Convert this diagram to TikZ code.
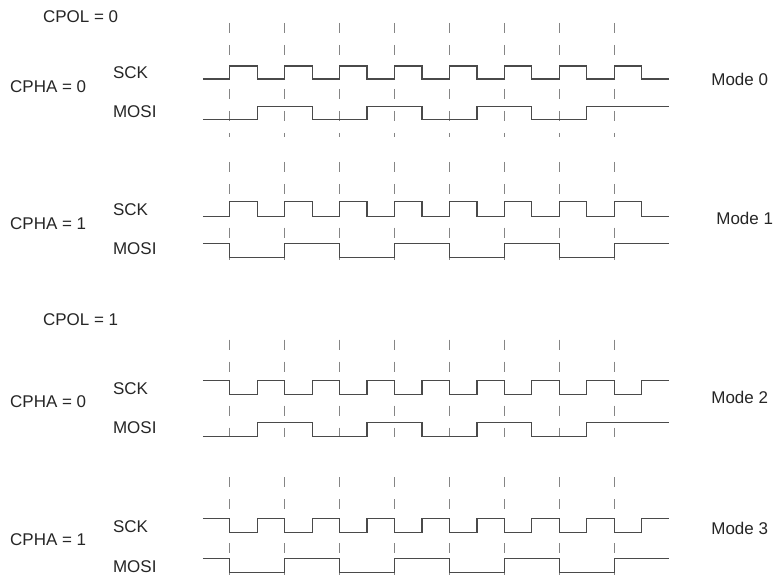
\documentclass[tikz,border=0pt]{standalone}
\usepackage{fontspec}
\setmainfont{Liberation Sans}
\definecolor{sigcol}{HTML}{4A4A4A}
\definecolor{tickcol}{HTML}{858585}
\tikzset{
  sig/.style={draw=sigcol, line width=1.2bp},
  tick/.style={draw=tickcol, line width=1.1bp, dash pattern=on 10bp off 12bp},
  lbl/.style={anchor=west, inner sep=0pt, text=black!85,
    font=\fontsize{17bp}{20bp}\selectfont}
}

\begin{document}
\begin{tikzpicture}[x=1bp, y=-1bp]
        \fill[white] (0,0) rectangle (773,581);

        \node[lbl] at (43,17) (cpol0) {CPOL = 0};
        \node[lbl] at (43,320) (cpol1) {CPOL = 1};

        \node[lbl] at (10,87) (cpha0a) {CPHA = 0};
        \node[lbl] at (10,224) (cpha1a) {CPHA = 1};
        \node[lbl] at (10,402) (cpha0b) {CPHA = 0};
        \node[lbl] at (10,540) (cpha1b) {CPHA = 1};

        \node[lbl] at (113,73) (sck0) {SCK};
        \node[lbl] at (113,112) (mosi0) {MOSI};
        \node[lbl] at (113,210) (sck1) {SCK};
        \node[lbl] at (113,249) (mosi1) {MOSI};
        \node[lbl] at (113,389) (sck2) {SCK};
        \node[lbl] at (113,428) (mosi2) {MOSI};
        \node[lbl] at (113,527) (sck3) {SCK};
        \node[lbl] at (113,567) (mosi3) {MOSI};

        \node[lbl] at (712,80) (mode0) {Mode 0};
        \node[lbl] at (717,219) (mode1) {Mode 1};
        \node[lbl] at (712,398) (mode2) {Mode 2};
        \node[lbl] at (712,529) (mode3) {Mode 3};

        % clock edge markers
        \foreach \x in {230,285,...,615} {
            \draw[tick] (\x,23) -- (\x,137);
            \draw[tick] (\x,162) -- (\x,272);
            \draw[tick] (\x,340) -- (\x,450);
            \draw[tick] (\x,478) -- (\x,581);
        }

        % mode 0
        \draw[sig] (203,79) -- (230,79)
            \foreach \k in {0,...,7} { |- ({257.5+55*\k},66) |- ({285+55*\k},79) };
        \draw[sig] (203,120) -- (257.5,120)
            \foreach \k in {0,1,2} { |- ({312.5+110*\k},107) |- ({367.5+110*\k},120) } |- (670,107);

        % mode 1
        \draw[sig] (203,217) -- (230,217)
            \foreach \k in {0,...,7} { |- ({257.5+55*\k},202) |- ({285+55*\k},217) };
        \draw[sig] (203,244) -- (230,244)
            \foreach \k in {0,...,3} { |- ({285+110*\k},258) |- ({340+110*\k},244) };

        % mode 2
        \draw[sig] (203,381) -- (230,381)
            \foreach \k in {0,...,7} { |- ({257.5+55*\k},395) |- ({285+55*\k},381) };
        \draw[sig] (203,437) -- (257.5,437)
            \foreach \k in {0,1,2} { |- ({312.5+110*\k},423) |- ({367.5+110*\k},437) } |- (670,423);

        % mode 3
        \draw[sig] (203,519) -- (230,519)
            \foreach \k in {0,...,7} { |- ({257.5+55*\k},533) |- ({285+55*\k},519) };
        \draw[sig] (203,559) -- (230,559)
            \foreach \k in {0,...,3} { |- ({285+110*\k},573) |- ({340+110*\k},559) };

    \end{tikzpicture}
\end{document}
